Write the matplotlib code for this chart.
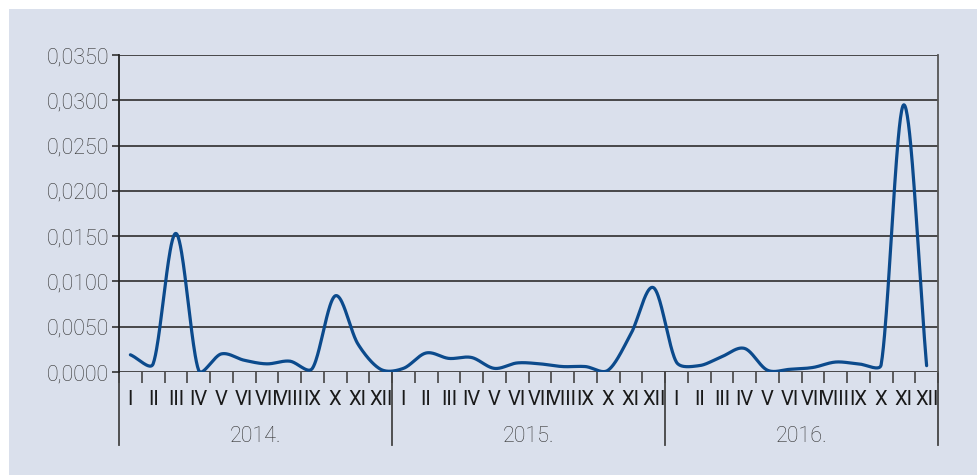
import numpy as np
import matplotlib
matplotlib.use("Agg")
import matplotlib.pyplot as plt
from matplotlib.patches import Rectangle
import matplotlib.transforms as mtransforms

# ---- data ----
years = ["2014.", "2015.", "2016."]
months = ["I", "II", "III", "IV", "V", "VI", "VII", "VIII", "IX", "X", "XI", "XII"]
values_2014 = [0.0019, 0.0009, 0.0153, 0.0002, 0.0020, 0.0013, 0.0009, 0.0012, 0.0004, 0.0084, 0.0031, 0.0003]
values_2015 = [0.0004, 0.0021, 0.0015, 0.0016, 0.0004, 0.0010, 0.0009, 0.0006, 0.0006, 0.0002, 0.0042, 0.0093]
values_2016 = [0.0011, 0.0007, 0.0017, 0.0026, 0.0002, 0.0003, 0.0005, 0.0011, 0.0009, 0.0008, 0.0295, 0.0007]
y_ticks = [0.0, 0.005, 0.010, 0.015, 0.020, 0.025, 0.030, 0.035]

values = values_2014 + values_2015 + values_2016
labels = months * len(years)
n = len(values)
x = np.arange(n, dtype=float)
y = np.array(values)

# smoothed line: Catmull-Rom tangents, control offsets clamped to segment length
def smooth(xp, yp, sx_scale, sy_scale, steps=40):
    P = np.column_stack([xp * sx_scale, yp * sy_scale])
    m = len(P)
    T = np.zeros_like(P)
    for i in range(m):
        a = P[max(i - 1, 0)]
        b = P[min(i + 1, m - 1)]
        T[i] = (b - a) / (2.0 if 0 < i < m - 1 else 1.0)
    out = []
    t = np.linspace(0, 1, steps, endpoint=False)[:, None]
    for i in range(m - 1):
        p0, p3 = P[i], P[i + 1]
        L = np.hypot(*(p3 - p0))
        o1 = T[i] / 3.0
        o2 = T[i + 1] / 3.0
        n1 = np.hypot(*o1)
        n2 = np.hypot(*o2)
        if n1 > L / 3.0:
            o1 = o1 * (L / 3.0) / n1
        if n2 > L / 3.0:
            o2 = o2 * (L / 3.0) / n2
        c1 = p0 + o1
        c2 = p3 - o2
        seg = ((1 - t) ** 3) * p0 + 3 * ((1 - t) ** 2) * t * c1 + 3 * (1 - t) * t ** 2 * c2 + t ** 3 * p3
        out.append(seg)
    out.append(P[-1][None, :])
    out = np.vstack(out)
    return out[:, 0] / sx_scale, out[:, 1] / sy_scale

sxs, sys_ = smooth(x, y, 22.75, 317.0 / 0.035)

BG = "#dae0ec"
TXT = "#333333"
GRID = "#3c3c3c"
LINE = "#0b4a8c"
FONT = ["Roboto", "DejaVu Sans"]
plt.rcParams["font.family"] = FONT

fig = plt.figure(figsize=(9.77, 4.75), dpi=100)
fig.patch.set_facecolor("white")
fig.add_artist(Rectangle((9 / 977, 0), 1 - 9 / 977, 1 - 9 / 475, transform=fig.transFigure,
                         facecolor=BG, edgecolor="none", zorder=0))

ax = fig.add_axes([119 / 977, 103 / 475, (938 - 119) / 977, (372 - 55) / 475])
ax.set_facecolor(BG)
ax.set_xlim(-0.5, n - 0.5)
ax.set_ylim(0, 0.035)

for v in y_ticks:
    ax.axhline(v, color=GRID, lw=1.3, zorder=1)

ax.plot(sxs, sys_, color=LINE, lw=2.3, zorder=3, solid_capstyle="round")

for s in ["top", "bottom"]:
    ax.spines[s].set_visible(False)
ax.spines["left"].set_color("#222222")
ax.spines["left"].set_linewidth(1.3)
ax.spines["right"].set_color("#555555")
ax.spines["right"].set_linewidth(1.3)

ax.set_yticks(y_ticks)
ax.set_yticklabels([f"{v:.4f}".replace(".", ",") for v in y_ticks], fontsize=15.5,
                   color=TXT, fontweight="light")
ax.tick_params(axis="y", direction="out", length=5, width=1.2, color="#333333", pad=2)

ax.set_xticks(x)
ax.set_xticklabels(labels, fontsize=14.5, color="#1a1a1a")
ax.tick_params(axis="x", length=0, pad=13)
ax.set_xticks(np.arange(-0.5, n, 1.0), minor=True)
ax.tick_params(axis="x", which="minor", direction="out", length=8, width=1.2, color="#444444")

trans = mtransforms.blended_transform_factory(ax.transData, ax.transAxes)
h = 317.0
for k in range(len(years) + 1):
    xb = -0.5 + 12 * k
    ax.plot([xb, xb], [0, -(445 - 372) / h], transform=trans, color="#444444", lw=1.3,
            clip_on=False, zorder=2)
for k, yr in enumerate(years):
    ax.text(12 * k + 5.5, -(436 - 372) / h, yr, transform=trans, ha="center", va="center",
            fontsize=15.5, color=TXT, fontweight="light")

fig.savefig("out.png", dpi=100, facecolor=fig.get_facecolor())
